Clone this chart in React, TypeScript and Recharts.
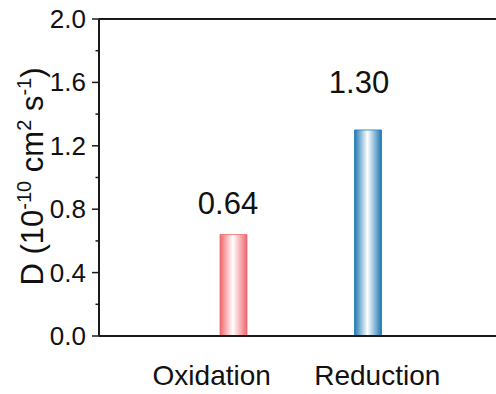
import React from 'react';
import { BarChart, Bar, XAxis, YAxis, Cell, LabelList, ReferenceLine } from 'recharts';

// measured values (10^-10 cm2 s-1)
const categories = ['Oxidation', 'Reduction'];
const diffusion = [0.64, 1.3];
const valueLabels = ['0.64', '1.30'];
const yTicks = [0, 0.2, 0.4, 0.6, 0.8, 1.0, 1.2, 1.4, 1.6, 1.8, 2.0];

const data = categories.map((name, i) => ({ name, value: diffusion[i], label: valueLabels[i] }));

const FONT = "Arial, 'Liberation Sans', sans-serif";
const AXIS = '#1a1a1a';
const barGradients = ['url(#gradRed)', 'url(#gradBlue)'];
const barEdges = ['#ee676d', '#1f78b4'];
// hand placement of the text, like in the original figure
const catShift = [-21.5, 9.5];
const labelShift = [{ dx: -5.5, gap: 21 }, { dx: -9, gap: 37 }];

const YTick = (props: any) => {
  const { x, y, payload, index } = props;
  const major = index % 2 === 0;
  return (
    <g>
      <line x1={x - (major ? 7 : 3.5)} x2={x} y1={y} y2={y} stroke={AXIS} strokeWidth={1.5} />
      {major && (
        <text x={x - 13} y={y} dy={9} textAnchor="end" fontSize={26} fontFamily={FONT} fill="#111">
          {Number(payload.value).toFixed(1)}
        </text>
      )}
    </g>
  );
};

const XTick = (props: any) => {
  const { x, y, payload, index } = props;
  return (
    <text x={x + catShift[index]} y={y} dy={49} textAnchor="middle" fontSize={28} fontFamily={FONT} fill="#111">
      {payload.value}
    </text>
  );
};

const ValueLabel = (props: any) => {
  const { x, y, width, value, index } = props;
  const s = labelShift[index];
  return (
    <text x={x + width / 2 + s.dx} y={y - s.gap} textAnchor="middle" fontSize={31} fontFamily={FONT} fill="#111">
      {value}
    </text>
  );
};

const YTitle = (props: any) => {
  const { viewBox } = props;
  const cx = viewBox.x + 43;
  const cy = viewBox.y + viewBox.height / 2 - 1;
  return (
    <text x={cx} y={cy} transform={`rotate(-90, ${cx}, ${cy})`} textAnchor="middle" fontSize={31} fontFamily={FONT} fill="#111">
      D (10
      <tspan fontSize={20} dy={-12}>-10</tspan>
      <tspan dy={12}> cm</tspan>
      <tspan fontSize={20} dy={-12}>2</tspan>
      <tspan dy={12}> s</tspan>
      <tspan fontSize={20} dy={-12}>-1</tspan>
      <tspan dy={12}>)</tspan>
    </text>
  );
};

export default function App() {
  return (
    <div style={{ position: 'absolute', left: 0, top: 0, background: '#fff' }}>
      <BarChart width={496} height={394} data={data} margin={{ top: 19, right: 0, bottom: 0, left: 0 }}>
        <defs>
          <linearGradient id="gradRed" x1="0" y1="0" x2="1" y2="0">
            <stop offset="0%" stopColor="#ee676d" />
            <stop offset="48%" stopColor="#ffffff" />
            <stop offset="100%" stopColor="#ee676d" />
          </linearGradient>
          <linearGradient id="gradBlue" x1="0" y1="0" x2="1" y2="0">
            <stop offset="0%" stopColor="#1f78b4" />
            <stop offset="48%" stopColor="#ffffff" />
            <stop offset="100%" stopColor="#1f78b4" />
          </linearGradient>
        </defs>
        <XAxis
          dataKey="name"
          height={58}
          padding={{ left: 67, right: 61 }}
          axisLine={{ stroke: AXIS, strokeWidth: 2 }}
          tickLine={false}
          tickSize={0}
          tickMargin={0}
          tick={<XTick />}
          interval={0}
        />
        <YAxis
          domain={[0, 2]}
          ticks={yTicks}
          width={99}
          interval={0}
          axisLine={{ stroke: AXIS, strokeWidth: 2 }}
          tickLine={false}
          tickSize={0}
          tickMargin={0}
          tick={<YTick />}
          label={{ content: <YTitle /> }}
        />
        <ReferenceLine y={2} stroke={AXIS} strokeWidth={2} />
        <Bar dataKey="value" barSize={27} isAnimationActive={false}>
          {data.map((d, i) => (
            <Cell key={d.name} fill={barGradients[i]} stroke={barEdges[i]} strokeWidth={0.8} />
          ))}
          <LabelList dataKey="label" content={<ValueLabel />} />
        </Bar>
      </BarChart>
    </div>
  );
}
